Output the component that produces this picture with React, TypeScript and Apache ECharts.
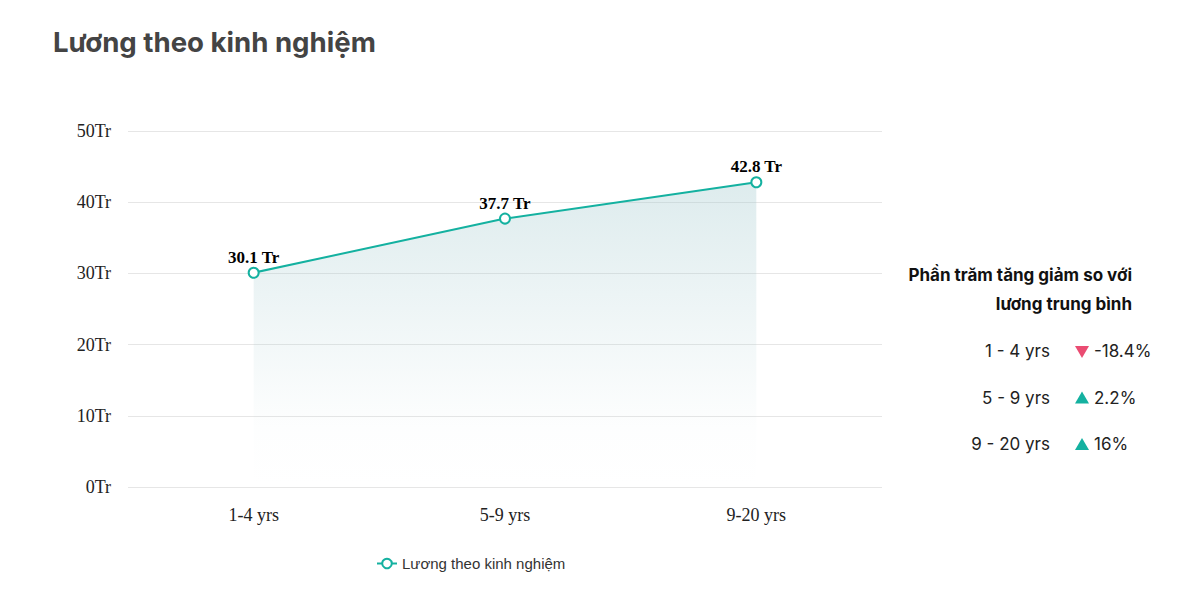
import React, { useEffect, useRef } from "react";
import * as echarts from "echarts";

const categories = ["1-4 yrs", "5-9 yrs", "9-20 yrs"];
const salary = [30.1, 37.7, 42.8];
const seriesName = "Lương theo kinh nghiệm";
const panelTitle = ["Phần trăm tăng giảm so với", "lương trung bình"];
const panelRows = ["1 - 4 yrs", "5 - 9 yrs", "9 - 20 yrs"];
const panelValues = ["-18.4%", "2.2%", "16%"];
const panelUp = [false, true, true];

const TEAL = "#14b1a0";
const PINK = "#ea4c72";

export default function App() {
  const ref = useRef<HTMLDivElement>(null);
  useEffect(() => {
    const chart = echarts.init(ref.current!, null, { renderer: "svg" });
    const graphics: any[] = [];
    graphics.push({
      type: "text",
      left: 53,
      top: 28,
      style: {
        text: "Lương theo kinh nghiệm",
        font: "bold 27.6px Inter, Roboto, sans-serif",
        fill: "#444444",
      },
    });
    graphics.push({
      type: "text",
      x: 1132,
      y: 275,
      style: {
        text: panelTitle[0],
        font: "bold 17px Inter, Roboto, sans-serif",
        fill: "#111111",
        align: "right",
        verticalAlign: "middle",
      },
    });
    graphics.push({
      type: "text",
      x: 1132,
      y: 304,
      style: {
        text: panelTitle[1],
        font: "bold 17px Inter, Roboto, sans-serif",
        fill: "#111111",
        align: "right",
        verticalAlign: "middle",
      },
    });
    panelRows.forEach((r, i) => {
      const y = 351 + i * 46.5;
      graphics.push({
        type: "text",
        x: 1050,
        y,
        style: {
          text: r,
          font: "17px Inter, Roboto, sans-serif",
          fill: "#222222",
          align: "right",
          verticalAlign: "middle",
        },
      });
      const up = panelUp[i];
      graphics.push({
        type: "polygon",
        shape: {
          points: up
            ? [[1075, y + 6], [1089, y + 6], [1082, y - 6]]
            : [[1075, y - 5], [1089, y - 5], [1082, y + 7]],
        },
        style: { fill: up ? TEAL : PINK },
      });
      graphics.push({
        type: "text",
        x: 1094,
        y,
        style: {
          text: panelValues[i],
          font: "17px Inter, Roboto, sans-serif",
          fill: "#222222",
          align: "left",
          verticalAlign: "middle",
        },
      });
    });

    chart.setOption({
      animation: false,
      grid: { left: 128, right: 314, top: 131, bottom: 122 },
      legend: {
        data: [seriesName],
        left: 371,
        top: 551,
        itemWidth: 20,
        itemHeight: 12,
        itemGap: 6,
        textStyle: { fontSize: 15, color: "#333", fontFamily: "'Liberation Sans', Arial, sans-serif" },
      },
      xAxis: {
        type: "category",
        data: categories,
        axisLine: { show: false },
        axisTick: { show: false },
        axisLabel: {
          margin: 19,
          fontSize: 18,
          color: "#222",
          fontFamily: "'Liberation Serif', 'Times New Roman', serif",
        },
      },
      yAxis: {
        type: "value",
        min: 0,
        max: 50,
        interval: 10,
        axisLabel: {
          formatter: "{value}Tr",
          fontSize: 18,
          margin: 17,
          color: "#222",
          fontFamily: "'Liberation Serif', 'Times New Roman', serif",
        },
        splitLine: { lineStyle: { color: "#e6e6e6", width: 1 } },
      },
      series: [
        {
          name: seriesName,
          type: "line",
          data: salary,
          symbol: "emptyCircle",
          symbolSize: 10,
          lineStyle: { color: TEAL, width: 2 },
          itemStyle: { color: TEAL, borderWidth: 2 },
          label: {
            show: true,
            position: "top",
            distance: 1,
            formatter: (p: any) => `${p.value} Tr`,
            fontSize: 17,
            fontWeight: "bold",
            color: "#000",
            fontFamily: "'Liberation Serif', 'Times New Roman', serif",
          },
          areaStyle: {
            color: new echarts.graphic.LinearGradient(0, 0, 0, 1, [
              { offset: 0, color: "rgba(160,200,205,0.5)" },
              { offset: 0.8, color: "rgba(160,200,205,0.03)" },
              { offset: 1, color: "rgba(160,200,205,0)" },
            ]),
          },
        },
      ],
      graphic: graphics,
    });
    return () => chart.dispose();
  }, []);
  return (
    <div
      ref={ref}
      style={{ position: "fixed", left: 0, top: 0, width: 1196, height: 609, background: "#fff" }}
    />
  );
}
